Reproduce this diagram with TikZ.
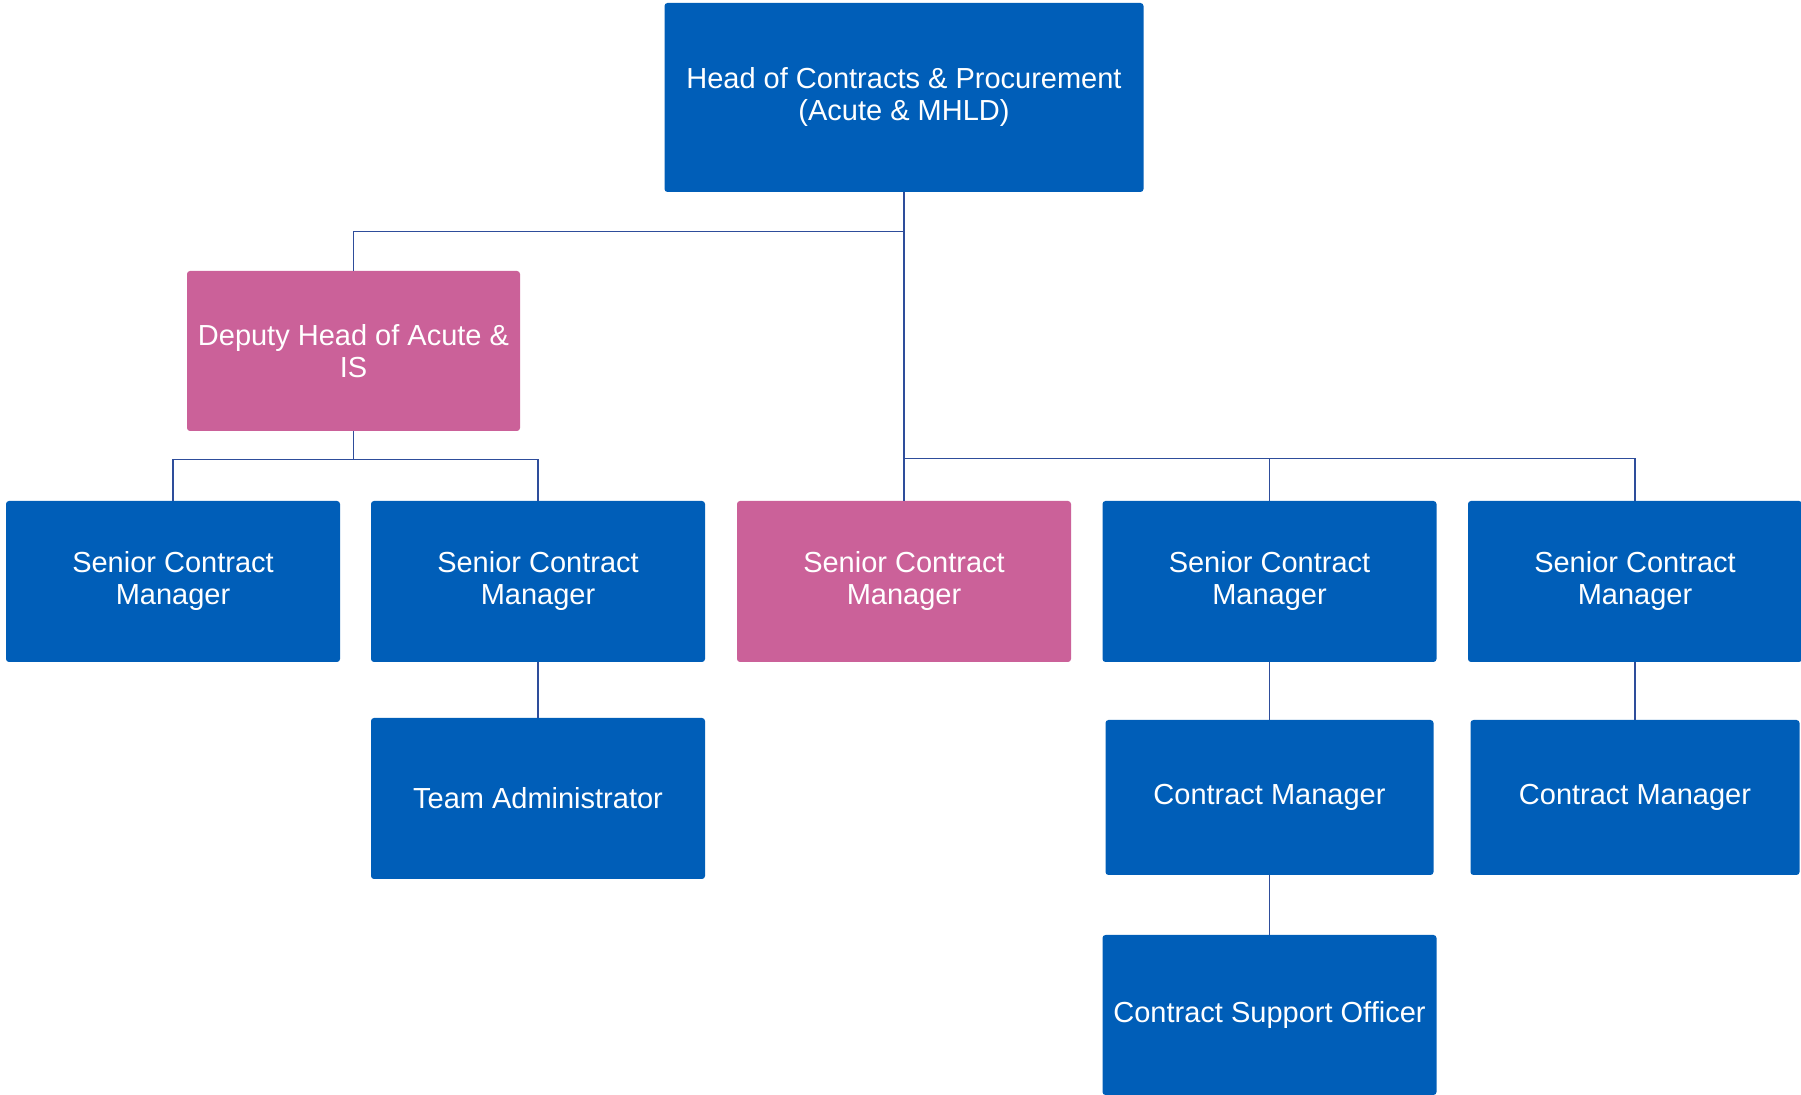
\documentclass[tikz,border=0pt]{standalone}
\usepackage{fontspec}
\setmainfont{Liberation Sans}
\usepackage{tikz}
\usetikzlibrary{calc}
\definecolor{nhsblue}{HTML}{005EB8}
\definecolor{rose}{HTML}{CB6199}
\definecolor{linkblue}{HTML}{2E4D9B}
\tikzset{
  post/.style={rectangle, rounded corners=1.5pt, fill=nhsblue, text=white, align=center,
    inner sep=0pt, minimum width=167pt, minimum height=80.5pt,
    font=\fontsize{14.5}{16}\selectfont},
  link/.style={draw=linkblue, line width=.7pt},
}

\begin{document}
\begin{tikzpicture}[x=.5pt,y=-.5pt]
\useasboundingbox (0,0) rectangle (1801,1095);
\node[post, minimum width=239.5pt, minimum height=94.5pt] (head) at (904,97.5) {Head of Contracts \& Procurement\\(Acute \& MHLD)};
\node[post, fill=rose, minimum width=166.5pt, minimum height=80pt] (dep) at (353.5,351) {Deputy Head of Acute \&\\IS};
\foreach \n/\x/\c in {1/173/nhsblue, 2/538/nhsblue, 3/904/rose, 4/1269.5/nhsblue, 5/1635/nhsblue} {
 \node[post, fill=\c] (scm\n) at (\x,581.5) {Senior Contract\\Manager};
}
\node[post] (ta) at (538,798.5) {Team Administrator};
\node[post, minimum width=164pt, minimum height=77.5pt] (cm1) at (1269.5,797.5) {Contract Manager};
\node[post, minimum width=164.5pt, minimum height=77.5pt] (cm2) at (1635,797.5) {Contract Manager};
\node[post, minimum height=80pt] (cso) at (1269.5,1015) {Contract Support Officer};

\draw[link] (head.south) -- (scm3.north);
\draw[link] (head.south) -- ++(0,39) -| (dep.north);
\draw[link] (scm3.north) -- ++(0,-42) -| (scm4.north);
\draw[link] (scm3.north) -- ++(0,-42) -| (scm5.north);
\draw[link] (dep.south) -- ++(0,28) -| (scm1.north);
\draw[link] (dep.south) -- ++(0,28) -| (scm2.north);
\draw[link] (scm2.south) -- (ta.north);
\draw[link] (scm4.south) -- (cm1.north);
\draw[link] (cm1.south) -- (cso.north);
\draw[link] (scm5.south) -- (cm2.north);
\end{tikzpicture}
\end{document}
